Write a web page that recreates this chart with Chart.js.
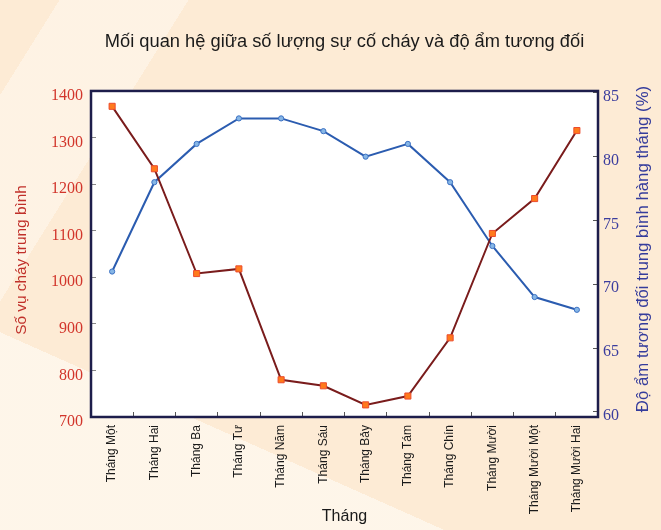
<!DOCTYPE html>
<html>
<head>
<meta charset="utf-8">
<script src="https://cdn.jsdelivr.net/npm/chart.js@4.4.1/dist/chart.umd.min.js"></script>
<style>
  html, body { margin: 0; padding: 0; }
  body {
    width: 661px; height: 530px; overflow: hidden;
    background:
      linear-gradient(24deg, rgba(255, 249, 240, 0.75) 0 24%, transparent 24%),
      linear-gradient(122deg, transparent 0 6%, rgba(255, 250, 243, 0.5) 6% 19%, transparent 19%),
      #fdebd5;
  }
  canvas { display: block; }
</style>
</head>
<body>
<canvas id="fireChart" width="661" height="530"></canvas>
<script>
// Data
const months = ["Tháng Một", "Tháng Hai", "Tháng Ba", "Tháng Tư", "Tháng Năm", "Tháng Sáu",
                "Tháng Bảy", "Tháng Tám", "Tháng Chín", "Tháng Mười", "Tháng Mười Một", "Tháng Mười Hai"];
const fireCounts = [1367, 1233, 1008, 1018, 780, 767, 726, 745, 870, 1094, 1169, 1315];
const humidity = [71, 78, 81, 83, 83, 82, 80, 81, 78, 73, 69, 68];
const fireTicks = [700, 800, 900, 1000, 1100, 1200, 1300, 1400];
const humidityTicks = [60, 65, 70, 75, 80, 85];
const fireTitle = 'Số vụ cháy trung bình';
const humidityTitle = 'Độ ẩm tương đối trung bình hàng tháng (%)';

// White plot background
const plotBg = {
  id: 'plotBg',
  beforeDraw(chart) {
    const { ctx, chartArea: a } = chart;
    ctx.save();
    ctx.fillStyle = '#ffffff';
    ctx.fillRect(a.left, a.top, a.right - a.left, a.bottom - a.top);
    ctx.restore();
  }
};

function drawVerticalTitle(ctx, text, x, y, color, size) {
  ctx.save();
  ctx.translate(x, y);
  ctx.rotate(-Math.PI / 2);
  ctx.fillStyle = color;
  ctx.font = size + 'px "Liberation Sans"';
  ctx.textAlign = 'center';
  ctx.textBaseline = 'middle';
  ctx.fillText(text, 0, 0);
  ctx.restore();
}

// Dark frame around the plot + both y-axis titles (read bottom-to-top)
const plotFrame = {
  id: 'plotFrame',
  afterDraw(chart) {
    const { ctx, chartArea: a } = chart;
    ctx.save();
    ctx.strokeStyle = '#1d1d4b';
    ctx.lineWidth = 2.5;
    ctx.strokeRect(a.left, a.top, a.right - a.left, a.bottom - a.top);
    ctx.restore();
    drawVerticalTitle(ctx, fireTitle, 22, 260, '#c0302a', 15.4);
    drawVerticalTitle(ctx, humidityTitle, 643, 249, '#353c9c', 16.8);
  }
};

const ctx = document.getElementById('fireChart').getContext('2d');
new Chart(ctx, {
  type: 'line',
  data: {
    labels: months,
    datasets: [
      {
        label: fireTitle,
        data: fireCounts,
        yAxisID: 'yFire',
        borderColor: '#7a1c1c',
        borderWidth: 2,
        pointStyle: 'rect',
        pointRadius: 4.3,
        pointBackgroundColor: '#ff7a1c',
        pointBorderColor: '#ec4b2c',
        pointBorderWidth: 1,
        tension: 0
      },
      {
        label: humidityTitle,
        data: humidity,
        yAxisID: 'yHum',
        borderColor: '#2b5cb0',
        borderWidth: 2,
        pointStyle: 'circle',
        pointRadius: 2.6,
        pointBackgroundColor: '#86b6e6',
        pointBorderColor: '#3d72c4',
        pointBorderWidth: 1,
        tension: 0
      }
    ]
  },
  options: {
    responsive: false,
    animation: false,
    devicePixelRatio: 1,
    layout: { padding: 0 },
    plugins: {
      legend: { display: false },
      tooltip: { enabled: false },
      title: {
        display: true,
        fullSize: false,
        text: 'Mối quan hệ giữa số lượng sự cố cháy và độ ẩm tương đối',
        color: '#1a1a1a',
        font: { family: 'Liberation Sans', size: 18.3, weight: 'normal' },
        padding: { top: 31, bottom: 38 }
      }
    },
    scales: {
      x: {
        offset: true,
        grid: { offset: true, drawOnChartArea: false, drawTicks: true, tickLength: -5, color: '#555', lineWidth: 1 },
        border: { display: false },
        ticks: {
          autoSkip: false,
          minRotation: 90, maxRotation: 90,
          padding: 13,
          color: '#1a1a1a',
          font: { family: 'Liberation Sans', size: 12 }
        },
        title: {
          display: true, text: 'Tháng', color: '#1a1a1a',
          font: { family: 'Liberation Sans', size: 16 },
          padding: { top: 0, bottom: 3.5 }
        },
        afterFit(scale) { scale.height = 113; }
      },
      yFire: {
        position: 'left',
        min: 700, max: 1400,
        afterBuildTicks(scale) { scale.ticks = fireTicks.map(v => ({ value: v })); },
        grid: { drawOnChartArea: false, drawTicks: true, tickLength: -5, color: '#888', lineWidth: 1 },
        border: { display: false },
        ticks: {
          padding: 13, labelOffset: 5,
          color: '#d2352b',
          font: { family: 'Liberation Serif', size: 16 },
          callback: v => String(v)
        },
        title: { display: false },
        afterFit(scale) { scale.width = 91; }
      },
      yHum: {
        position: 'right',
        min: 59.6, max: 85.15,
        afterBuildTicks(scale) { scale.ticks = humidityTicks.map(v => ({ value: v })); },
        grid: { drawOnChartArea: false, drawTicks: true, tickLength: -5, color: '#555', lineWidth: 1 },
        border: { display: false },
        ticks: {
          padding: 10, labelOffset: 4,
          color: '#3b3d9e',
          font: { family: 'Liberation Serif', size: 16 },
          callback: v => String(v)
        },
        title: { display: false },
        afterFit(scale) { scale.width = 63; }
      }
    }
  },
  plugins: [plotBg, plotFrame]
});
</script>
</body>
</html>
